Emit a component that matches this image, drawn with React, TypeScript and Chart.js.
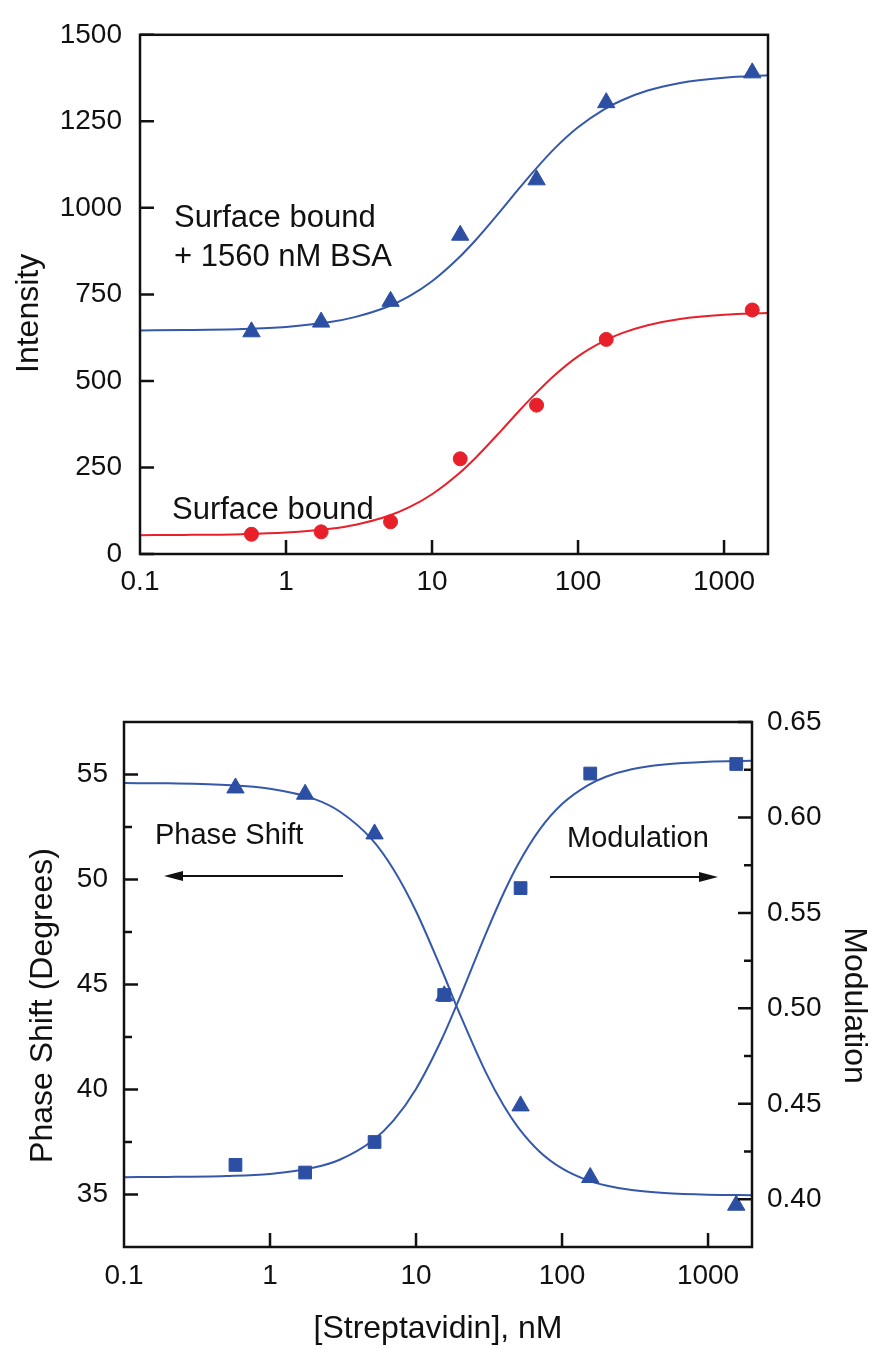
import React, { useEffect, useRef } from 'react';
import { Chart, registerables } from 'chart.js';

Chart.register(...registerables);

const FONT = "'Liberation Sans', Arial, Helvetica, sans-serif";
const BLUE = '#2c4fa3';
const CURVE_BLUE = '#3558ad';
const RED = '#e8202a';
const INK = '#111111';

// ---- measured data (streptavidin concentration, nM) ----
const concentrations = [0.58, 1.74, 5.2, 15.6, 52, 156, 1560];
const intensityBSA = [642, 670, 730, 921, 1081, 1304, 1390];
const intensitySurface = [57, 64, 93, 275, 430, 620, 705];
const phaseShift = [54.36, 54.06, 52.17, 44.46, 39.22, 35.81, 34.49];
const modulation = [0.418, 0.414, 0.43, 0.507, 0.563, 0.623, 0.628];

// ---- fitted curves ----
const fitConc = [0.1, 0.2, 0.5, 1, 2, 3, 5, 7, 10, 15, 20, 30, 40, 50, 70, 100, 150, 200, 300, 500, 1000, 2000];
const fitBSA = [646, 647, 650, 656, 670, 685, 715, 745, 788, 853, 908, 995, 1059, 1107, 1174, 1233, 1284, 1311, 1339, 1361, 1376, 1383];
const fitSurface = [54.5, 55.1, 57.4, 62.1, 72.9, 84.8, 109.8, 135.3, 172.6, 229.6, 279, 358, 416, 459, 518.5, 571, 615, 638, 661, 679, 691, 696];
const fitPhase = [54.59, 54.58, 54.5, 54.32, 53.84, 53.24, 51.9, 50.49, 48.49, 45.69, 43.58, 40.83, 39.21, 38.2, 37.05, 36.24, 35.67, 35.43, 35.21, 35.07, 34.99, 34.97];
const fitModulation = [0.4116, 0.4117, 0.4122, 0.4133, 0.4166, 0.4207, 0.4305, 0.4412, 0.4578, 0.4838, 0.5059, 0.5389, 0.5607, 0.5755, 0.5935, 0.607, 0.6168, 0.6213, 0.6252, 0.6277, 0.6292, 0.6297];

// ---- ticks ----
const xTickValues = [0.1, 1, 10, 100, 1000];
const intensityTicks = [0, 250, 500, 750, 1000, 1250, 1500];
const phaseTicks = [35, 40, 45, 50, 55];
const phaseMinorTicks = [37.5, 42.5, 47.5, 52.5];
const modulationTicks = [0.4, 0.45, 0.5, 0.55, 0.6, 0.65];
const modulationMinorTicks = [0.425, 0.475, 0.525, 0.575, 0.625];

const pts = (xs: number[], ys: number[]) => xs.map((x, i) => ({ x, y: ys[i] }));

const tickFont = { size: 28, family: FONT };

function drawFrame(chart: any) {
  const { ctx, chartArea: ca } = chart;
  ctx.strokeStyle = INK;
  ctx.lineWidth = 2.5;
  ctx.strokeRect(ca.left, ca.top, ca.right - ca.left, ca.bottom - ca.top);
}

function xTicksIn(chart: any) {
  const { ctx, chartArea: ca, scales } = chart;
  ctx.beginPath();
  for (const v of xTickValues.slice(1)) {
    const p = scales.x.getPixelForValue(v);
    ctx.moveTo(p, ca.bottom);
    ctx.lineTo(p, ca.bottom - 14);
  }
  ctx.stroke();
}

function vText(ctx: any, text: string, x: number, y: number, rot: number, size: number) {
  ctx.save();
  ctx.translate(x, y);
  ctx.rotate(rot);
  ctx.font = `${size}px ${FONT}`;
  ctx.fillStyle = INK;
  ctx.textAlign = 'center';
  ctx.textBaseline = 'alphabetic';
  ctx.fillText(text, 0, 0);
  ctx.restore();
}

function arrow(ctx: any, x1: number, x2: number, y: number) {
  const dir = Math.sign(x2 - x1);
  ctx.save();
  ctx.strokeStyle = INK;
  ctx.fillStyle = INK;
  ctx.lineWidth = 1.8;
  ctx.beginPath();
  ctx.moveTo(x1, y);
  ctx.lineTo(x2 - dir * 12, y);
  ctx.stroke();
  ctx.beginPath();
  ctx.moveTo(x2, y);
  ctx.lineTo(x2 - dir * 19, y - 5);
  ctx.lineTo(x2 - dir * 19, y + 5);
  ctx.closePath();
  ctx.fill();
  ctx.restore();
}

const topOverlay = {
  id: 'topOverlay',
  afterDraw(chart: any) {
    const { ctx, chartArea: ca, scales } = chart;
    ctx.save();
    drawFrame(chart);
    xTicksIn(chart);
    ctx.beginPath();
    for (const v of intensityTicks) {
      const p = scales.y.getPixelForValue(v);
      ctx.moveTo(ca.left, p);
      ctx.lineTo(ca.left + 14, p);
    }
    ctx.stroke();
    ctx.restore();

    ctx.save();
    ctx.font = `31px ${FONT}`;
    ctx.fillStyle = INK;
    ctx.textAlign = 'left';
    ctx.textBaseline = 'alphabetic';
    ctx.fillText('Surface bound', ca.left + 34, ca.top + 192);
    ctx.fillText('+ 1560 nM BSA', ca.left + 34, ca.top + 231);
    ctx.fillText('Surface bound', ca.left + 32, ca.top + 484);
    ctx.restore();

    vText(ctx, 'Intensity', 38, (ca.top + ca.bottom) / 2 + 19, -Math.PI / 2, 32);
  },
};

const bottomOverlay = {
  id: 'bottomOverlay',
  afterDraw(chart: any) {
    const { ctx, chartArea: ca, scales } = chart;
    ctx.save();
    drawFrame(chart);
    xTicksIn(chart);
    ctx.beginPath();
    for (const v of phaseTicks) {
      const p = scales.y.getPixelForValue(v);
      ctx.moveTo(ca.left, p);
      ctx.lineTo(ca.left + 14, p);
    }
    for (const v of phaseMinorTicks) {
      const p = scales.y.getPixelForValue(v);
      ctx.moveTo(ca.left, p);
      ctx.lineTo(ca.left + 8, p);
    }
    for (const v of modulationTicks) {
      const p = scales.y2.getPixelForValue(v);
      ctx.moveTo(ca.right, p);
      ctx.lineTo(ca.right - 14, p);
    }
    for (const v of modulationMinorTicks) {
      const p = scales.y2.getPixelForValue(v);
      ctx.moveTo(ca.right, p);
      ctx.lineTo(ca.right - 8, p);
    }
    ctx.stroke();
    ctx.restore();

    ctx.save();
    ctx.font = `29px ${FONT}`;
    ctx.fillStyle = INK;
    ctx.textAlign = 'left';
    ctx.textBaseline = 'alphabetic';
    ctx.fillText('Phase Shift', ca.left + 31, ca.top + 122);
    ctx.fillText('Modulation', ca.left + 443, ca.top + 125);
    ctx.restore();

    arrow(ctx, ca.left + 219, ca.left + 40, ca.top + 154);
    arrow(ctx, ca.left + 426, ca.left + 594, ca.top + 155);

    const midY = (ca.top + ca.bottom) / 2 + 21;
    vText(ctx, 'Phase Shift (Degrees)', 52, midY, -Math.PI / 2, 32);
    vText(ctx, 'Modulation', 845, midY, Math.PI / 2, 32);
    vText(ctx, '[Streptavidin], nM', (ca.left + ca.right) / 2, 698, 0, 32);
  },
};

function logX(height: number, padding: number) {
  return {
    type: 'logarithmic' as const,
    position: 'bottom' as const,
    min: 0.1,
    max: 2000,
    grid: { display: false, drawTicks: false },
    border: { display: false },
    afterBuildTicks: (s: any) => {
      s.ticks = xTickValues.map((v) => ({ value: v }));
    },
    afterFit: (s: any) => {
      s.height = height;
    },
    ticks: {
      padding,
      font: tickFont,
      color: INK,
      autoSkip: false,
      maxRotation: 0,
      callback: (v: any) => String(v),
    },
  };
}

function IntensityChart() {
  const ref = useRef<HTMLCanvasElement>(null);
  useEffect(() => {
    const chart = new Chart(ref.current as HTMLCanvasElement, {
      type: 'scatter',
      data: {
        datasets: [
          {
            data: pts(concentrations, intensityBSA),
            pointStyle: 'triangle',
            pointRadius: 10,
            backgroundColor: BLUE,
            borderColor: BLUE,
            borderWidth: 1,
            order: 0,
          },
          {
            data: pts(concentrations, intensitySurface),
            pointStyle: 'circle',
            pointRadius: 7,
            backgroundColor: RED,
            borderColor: RED,
            borderWidth: 1,
            order: 0,
          },
          {
            data: pts(fitConc, fitBSA),
            showLine: true,
            pointRadius: 0,
            borderColor: CURVE_BLUE,
            borderWidth: 2,
            cubicInterpolationMode: 'monotone',
            order: 1,
          },
          {
            data: pts(fitConc, fitSurface),
            showLine: true,
            pointRadius: 0,
            borderColor: RED,
            borderWidth: 2,
            cubicInterpolationMode: 'monotone',
            order: 1,
          },
        ],
      } as any,
      options: {
        animation: false,
        responsive: false,
        devicePixelRatio: 1,
        layout: { padding: { left: 0, right: 105, top: 28, bottom: 0 } },
        plugins: { legend: { display: false }, tooltip: { enabled: false } },
        scales: {
          x: logX(86, 11),
          y: {
            type: 'linear',
            position: 'left',
            min: 0,
            max: 1500,
            grid: { display: false, drawTicks: false },
            border: { display: false },
            afterBuildTicks: (s: any) => {
              s.ticks = intensityTicks.map((v) => ({ value: v }));
            },
            afterFit: (s: any) => {
              s.width = 140;
            },
            ticks: { padding: 18, font: tickFont, color: INK, callback: (v: any) => String(v) },
          },
        },
      } as any,
      plugins: [topOverlay],
    });
    return () => chart.destroy();
  }, []);
  return (
    <canvas
      ref={ref}
      width={873}
      height={640}
      style={{ position: 'absolute', left: 0, top: 0, width: 873, height: 640 }}
    />
  );
}

function PhaseChart() {
  const ref = useRef<HTMLCanvasElement>(null);
  useEffect(() => {
    const chart = new Chart(ref.current as HTMLCanvasElement, {
      type: 'scatter',
      data: {
        datasets: [
          {
            data: pts(concentrations, phaseShift),
            yAxisID: 'y',
            pointStyle: 'triangle',
            pointRadius: 10,
            backgroundColor: BLUE,
            borderColor: BLUE,
            borderWidth: 1,
            order: 0,
          },
          {
            data: pts(concentrations, modulation),
            yAxisID: 'y2',
            pointStyle: 'rect',
            pointRadius: 9,
            backgroundColor: BLUE,
            borderColor: BLUE,
            borderWidth: 1,
            order: 0,
          },
          {
            data: pts(fitConc, fitPhase),
            yAxisID: 'y',
            showLine: true,
            pointRadius: 0,
            borderColor: CURVE_BLUE,
            borderWidth: 2,
            cubicInterpolationMode: 'monotone',
            order: 1,
          },
          {
            data: pts(fitConc, fitModulation),
            yAxisID: 'y2',
            showLine: true,
            pointRadius: 0,
            borderColor: CURVE_BLUE,
            borderWidth: 2,
            cubicInterpolationMode: 'monotone',
            order: 1,
          },
        ],
      } as any,
      options: {
        animation: false,
        responsive: false,
        devicePixelRatio: 1,
        layout: { padding: { left: 0, right: 0, top: 82, bottom: 0 } },
        plugins: { legend: { display: false }, tooltip: { enabled: false } },
        scales: {
          x: logX(102, 12),
          y: {
            type: 'linear',
            position: 'left',
            min: 32.5,
            max: 57.5,
            grid: { display: false, drawTicks: false },
            border: { display: false },
            afterBuildTicks: (s: any) => {
              s.ticks = phaseTicks.map((v) => ({ value: v }));
            },
            afterFit: (s: any) => {
              s.width = 124;
            },
            ticks: { padding: 16, font: tickFont, color: INK, callback: (v: any) => String(v) },
          },
          y2: {
            type: 'linear',
            position: 'right',
            min: 0.375,
            max: 0.65,
            grid: { display: false, drawTicks: false },
            border: { display: false },
            afterBuildTicks: (s: any) => {
              s.ticks = modulationTicks.map((v) => ({ value: v }));
            },
            afterFit: (s: any) => {
              s.width = 121;
            },
            ticks: { padding: 15, font: tickFont, color: INK, callback: (v: any) => Number(v).toFixed(2) },
          },
        },
      } as any,
      plugins: [bottomOverlay],
    });
    return () => chart.destroy();
  }, []);
  return (
    <canvas
      ref={ref}
      width={873}
      height={709}
      style={{ position: 'absolute', left: 0, top: 640, width: 873, height: 709 }}
    />
  );
}

export default function App() {
  return (
    <div
      style={{
        position: 'absolute',
        left: 0,
        top: 0,
        width: 873,
        height: 1349,
        background: '#ffffff',
        overflow: 'hidden',
      }}
    >
      <IntensityChart />
      <PhaseChart />
    </div>
  );
}
